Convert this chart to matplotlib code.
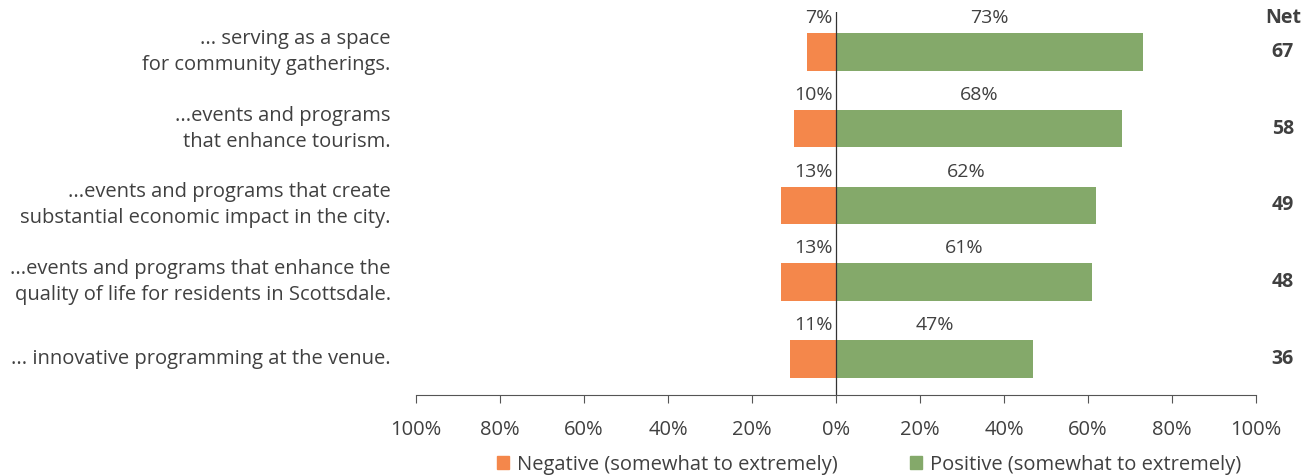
import matplotlib

matplotlib.use("Agg")
import matplotlib.pyplot as plt
from matplotlib.patches import Patch

plt.rcParams["font.family"] = ["Open Sans", "DejaVu Sans"]

itens = [
    "... serving as a space\nfor community gatherings.",
    "...events and programs\nthat enhance tourism.",
    "...events and programs that create\nsubstantial economic impact in the city.",
    "...events and programs that enhance the\nquality of life for residents in Scottsdale.",
    "... innovative programming at the venue.",
]
negativo = [7, 10, 13, 13, 11]
positivo = [73, 68, 62, 61, 47]
liquido = [67, 58, 49, 48, 36]
ticks = [-100, -80, -60, -40, -20, 0, 20, 40, 60, 80, 100]

cor_neg = "#F4874B"
cor_pos = "#84A96A"
cor_txt = "#404040"

fig = plt.figure(figsize=(13.01, 4.76), dpi=100)
ax = fig.add_axes([0.3197, 0.170, 0.6457, 0.805])

y = list(range(len(itens)))
ax.barh(y, [-v for v in negativo], height=0.49, color=cor_neg)
ax.barh(y, positivo, height=0.49, color=cor_pos)
ax.axvline(0, color="#333333", lw=0.9)

for i in y:
    ax.text(-0.8, i - 0.44, f"{negativo[i]}%", ha="right", va="center",
            fontsize=14, color=cor_txt)
    ax.text(positivo[i] / 2, i - 0.44, f"{positivo[i]}%", ha="center", va="center",
            fontsize=14, color=cor_txt)
    ax.text(106.4, i, str(liquido[i]), ha="center", va="center",
            fontsize=14, fontweight="bold", color=cor_txt)
    ax.text(-106, i, itens[i], ha="right", va="center", fontsize=14.5,
            color=cor_txt, multialignment="right", linespacing=1.4)
ax.text(106.4, -0.44, "Net", ha="center", va="center", fontsize=14,
        fontweight="bold", color=cor_txt)

ax.set_xlim(-100, 100)
ax.set_ylim(4.47, -0.52)
ax.set_xticks(ticks)
ax.set_xticklabels([f"{abs(t)}%" for t in ticks], fontsize=14.5, color=cor_txt)
ax.set_yticks([])
for s in ["left", "right", "top"]:
    ax.spines[s].set_visible(False)
ax.spines["bottom"].set_color("#555555")
ax.tick_params(axis="x", direction="out", length=6, color="#555555", pad=12)

handles = [Patch(color=cor_neg, label="Negative (somewhat to extremely)"),
           Patch(color=cor_pos, label="Positive (somewhat to extremely)")]
fig.legend(handles=handles, loc="lower center", bbox_to_anchor=(0.668, -0.035),
           ncol=2, frameon=False, fontsize=14.5, handlelength=0.6, handleheight=0.6,
           handletextpad=0.4, columnspacing=3.6, labelcolor=cor_txt)

fig.savefig("out.png", dpi=100)
